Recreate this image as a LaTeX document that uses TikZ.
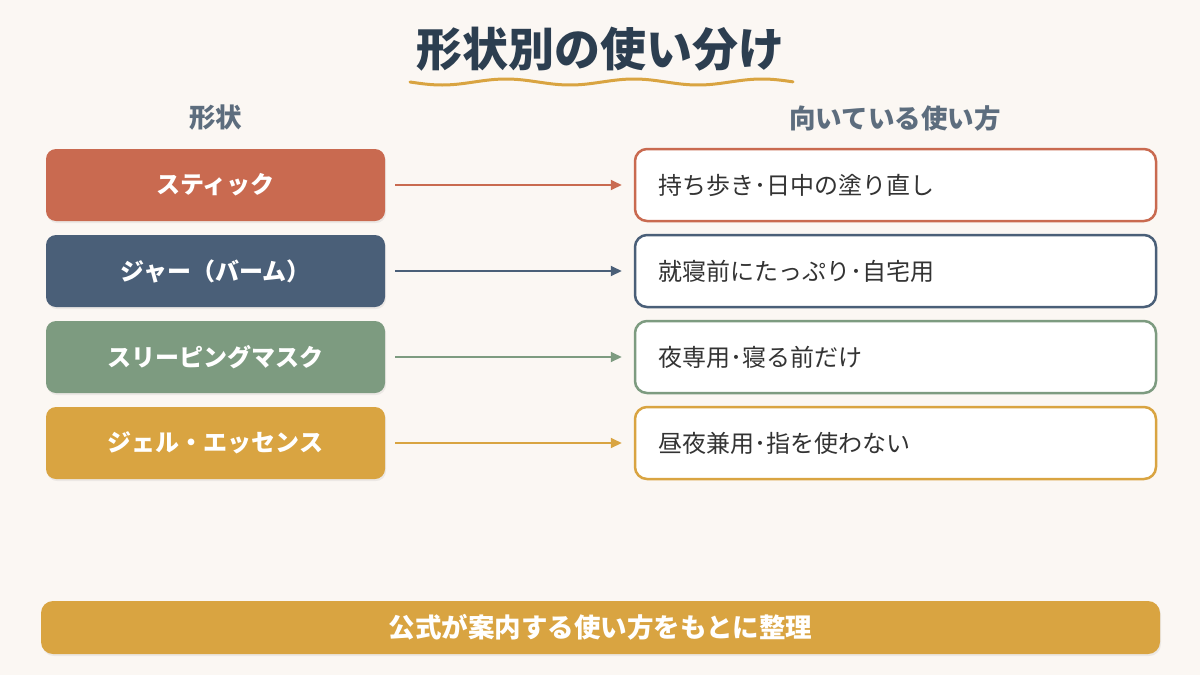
\documentclass[tikz,border=0pt]{standalone}
\usepackage{fontspec}
\newfontfamily\jp{Noto Sans CJK JP}
\usetikzlibrary{arrows.meta,shadows}
\definecolor{bg}{HTML}{FBF7F3}
\definecolor{navy}{HTML}{2C3E50}
\definecolor{hdr}{HTML}{5D6D7E}
\definecolor{cstick}{HTML}{C96A50}
\definecolor{cjar}{HTML}{4A5F78}
\definecolor{cmask}{HTML}{7D9B80}
\definecolor{cgel}{HTML}{D9A441}
\definecolor{txt}{HTML}{333333}
\tikzset{
  shapebox/.style={fill=#1, rounded corners=10pt, minimum width=339pt, minimum height=72pt,
    text=white, font=\jp\bfseries\fontsize{24pt}{28pt}\selectfont, inner sep=0pt,
    drop shadow={opacity=0.12, shadow xshift=1pt, shadow yshift=-2pt}},
  usebox/.style={draw=#1, fill=white, line width=2.5pt, rounded corners=12pt, minimum width=521pt,
    minimum height=72pt, text width=475pt, align=left, inner xsep=23pt, inner ysep=0pt,
    text=txt, font=\jp\fontsize{24pt}{28pt}\selectfont},
  link/.style={draw=#1, line width=2pt, -{Triangle[length=11pt,width=10pt]}, shorten <=10pt, shorten >=12pt},
  header/.style={text=hdr, font=\jp\bfseries\fontsize{26.5pt}{30pt}\selectfont}
}
\begin{document}
\begin{tikzpicture}[x=1pt,y=-1pt]
\fill[bg] (0,0) rectangle (1200,675);
\useasboundingbox (0,0) rectangle (1200,675);
\node[text=navy, font=\jp\bfseries\fontsize{46pt}{52pt}\selectfont] (title) at (600,49) {形状別の使い分け};
\draw[cgel, line width=3pt, line cap=round] plot[domain=410:793, samples=120, smooth] (\x, {82 + 3*sin((\x-410)*2.8125)});
\node[header] (h1) at (215.5,118) {形状};
\node[header] (h2) at (895,118) {向いている使い方};

\node[shapebox=cstick] (s1) at (215.5,185) {スティック};
\node[shapebox=cjar]   (s2) at (215.5,271) {ジャー（バーム）};
\node[shapebox=cmask]  (s3) at (215.5,357) {スリーピングマスク};
\node[shapebox=cgel]   (s4) at (215.5,443) {ジェル・エッセンス};

\node[usebox=cstick] (u1) at (895.5,185) {持ち歩き･日中の塗り直し};
\node[usebox=cjar]   (u2) at (895.5,271) {就寝前にたっぷり･自宅用};
\node[usebox=cmask]  (u3) at (895.5,357) {夜専用･寝る前だけ};
\node[usebox=cgel]   (u4) at (895.5,443) {昼夜兼用･指を使わない};

\draw[link=cstick] (s1) -- (u1);
\draw[link=cjar]   (s2) -- (u2);
\draw[link=cmask]  (s3) -- (u3);
\draw[link=cgel]   (s4) -- (u4);

\node[fill=cgel, rounded corners=12pt, minimum width=1119pt, minimum height=53pt, inner sep=0pt,
  text=white, font=\jp\bfseries\fontsize{26.5pt}{30pt}\selectfont,
  drop shadow={opacity=0.12, shadow xshift=1pt, shadow yshift=-2pt}] (banner) at (600.5,627.5) {公式が案内する使い方をもとに整理};
\end{tikzpicture}
\end{document}
